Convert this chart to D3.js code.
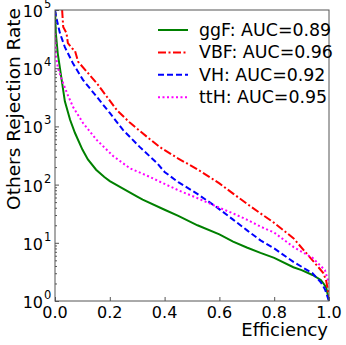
<!DOCTYPE html>
<html>
<head>
<meta charset="utf-8">
<script src="https://cdn.jsdelivr.net/npm/d3@7"></script>
<style>
  body { margin: 0; background: #fff; }
  text { font-family: "DejaVu Sans", sans-serif; fill: #000; }
</style>
</head>
<body>
<svg id="chart" width="346" height="345"></svg>
<script>
// ROC style curves, efficiency vs rejection of the other classes (log scale)

var ggfEff = [0, 0.003, 0.01, 0.018, 0.036, 0.055, 0.073, 0.1, 0.12, 0.15, 0.18, 0.2, 0.245, 0.3, 0.32, 0.4, 0.45, 0.52, 0.6, 0.65, 0.7, 0.75, 0.8, 0.87, 0.9, 0.94, 0.97, 0.98, 0.99, 1.0];
var ggfRej = [1e5, 40000, 18000, 10000, 2700, 1300, 770, 400, 270, 180, 135, 115, 87, 62, 55, 37, 29, 20, 14, 10.5, 8.3, 6.7, 5.5, 3.8, 3.4, 2.8, 2.3, 2.0, 1.7, 1.0];

var vbfEff = [0.026, 0.03, 0.042, 0.047, 0.062, 0.073, 0.084, 0.117, 0.153, 0.19, 0.226, 0.274, 0.336, 0.383, 0.45, 0.518, 0.6, 0.65, 0.7, 0.75, 0.8, 0.87, 0.94, 0.98, 0.99, 1.0];
var vbfRej = [1e5, 51000, 40000, 27000, 22000, 20000, 13000, 8600, 5500, 3200, 1900, 1150, 660, 440, 280, 185, 105, 70, 47, 32, 22, 12, 5.0, 3.0, 2.2, 1.2];

var vhEff = [0, 0.007, 0.018, 0.036, 0.066, 0.102, 0.153, 0.2, 0.248, 0.31, 0.372, 0.4, 0.45, 0.518, 0.59, 0.65, 0.7, 0.75, 0.8, 0.87, 0.94, 0.97, 0.985, 1.0];
var vhRej = [1e5, 67000, 40000, 23000, 12000, 6300, 3200, 1700, 870, 440, 235, 165, 110, 70, 41, 25, 16.5, 11, 8, 4.7, 3.0, 2.1, 1.6, 1.0];

var tthEff = [0, 0.004, 0.011, 0.025, 0.044, 0.066, 0.102, 0.153, 0.212, 0.274, 0.347, 0.383, 0.45, 0.518, 0.6, 0.65, 0.7, 0.75, 0.8, 0.87, 0.94, 0.985, 1.0];
var tthRej = [40000, 15000, 10000, 6300, 3700, 2150, 1150, 580, 310, 190, 135, 112, 80, 59, 40, 32, 25, 19, 15, 8.5, 5.5, 3.4, 2.0];

var seriesNames = ["ggF", "VBF", "VH", "ttH"];
var aucValues = ["0.89", "0.96", "0.92", "0.95"];
var xTicks = [0, 0.2, 0.4, 0.6, 0.8, 1.0];
var yTicks = [1, 10, 100, 1000, 10000, 100000];

var colors = ["#008000", "#ff0000", "#0000ff", "#ff00ff"];
var dashes = [null, "8,2.5,2,2.5", "6,3", "2,2.5"];

var svg = d3.select("#chart");
// note: "top" is taken by window.top, so use other names
var padL = 55, padR = 329, padT = 10, padB = 301;

var x = d3.scaleLinear().domain([0, 1]).range([padL, padR]);
var y = d3.scaleLog().domain([1, 1e5]).range([padB, padT]);

function zip(a, b) {
  return a.map(function(v, i) { return [v, b[i]]; });
}
var curves = [zip(ggfEff, ggfRej), zip(vbfEff, vbfRej), zip(vhEff, vhRej), zip(tthEff, tthRej)];

svg.append("clipPath").attr("id", "clip")
  .append("rect").attr("x", padL).attr("y", padT)
  .attr("width", padR - padL).attr("height", padB - padT);

var line = d3.line()
  .x(function(d) { return x(d[0]); })
  .y(function(d) { return y(d[1]); });

var plot = svg.append("g").attr("clip-path", "url(#clip)");
curves.forEach(function(c, i) {
  plot.append("path")
    .attr("d", line(c))
    .attr("fill", "none")
    .attr("stroke", colors[i])
    .attr("stroke-width", 2)
    .attr("stroke-dasharray", dashes[i]);
});

// minor ticks on the log axis
var minor = [];
for (var e = 0; e < 5; e++) {
  for (var m = 2; m < 10; m++) minor.push(m * Math.pow(10, e));
}

function greyTicks(g) {
  g.select(".domain").remove();
  g.selectAll("line").attr("stroke", "#555");
}

svg.append("g")
  .attr("transform", "translate(" + padL + ",0)")
  .call(d3.axisLeft(y).tickValues(minor).tickSize(-2).tickFormat(""))
  .call(greyTicks);

svg.append("g")
  .attr("transform", "translate(" + padL + ",0)")
  .call(d3.axisLeft(y).tickValues(yTicks).tickSize(-4).tickFormat(""))
  .call(greyTicks);

svg.append("g")
  .attr("transform", "translate(0," + padB + ")")
  .call(d3.axisBottom(x).tickValues(xTicks).tickSize(-4).tickFormat(""))
  .call(greyTicks);

// frame
svg.append("rect")
  .attr("x", padL).attr("y", padT)
  .attr("width", padR - padL).attr("height", padB - padT)
  .attr("fill", "none").attr("stroke", "#555").attr("stroke-width", 1);

// y tick labels 10^n
yTicks.forEach(function(v) {
  svg.append("text")
    .attr("x", 43).attr("y", y(v) + 7)
    .attr("text-anchor", "end")
    .style("font-size", "16px")
    .text("10");
  svg.append("text")
    .attr("x", 44).attr("y", y(v) - 2)
    .style("font-size", "11.5px")
    .text(Math.round(Math.log10(v)));
});

// x tick labels
xTicks.forEach(function(v) {
  svg.append("text")
    .attr("x", x(v)).attr("y", padB + 17)
    .attr("text-anchor", "middle")
    .style("font-size", "16px")
    .text(v.toFixed(1));
});

svg.append("text")
  .attr("x", 328).attr("y", 336)
  .attr("text-anchor", "end")
  .style("font-size", "18px")
  .text("Efficiency");

svg.append("text")
  .attr("transform", "translate(20,8) rotate(-90)")
  .attr("text-anchor", "end")
  .style("font-size", "18.5px")
  .text("Others Rejection Rate");

// legend
var legend = svg.append("g");
seriesNames.forEach(function(name, i) {
  var ly = 30 + i * 22.4;
  legend.append("line")
    .attr("x1", 158).attr("x2", 188)
    .attr("y1", ly).attr("y2", ly)
    .attr("stroke", colors[i])
    .attr("stroke-width", 2)
    .attr("stroke-dasharray", dashes[i]);
  legend.append("text")
    .attr("x", 199).attr("y", ly + 6)
    .style("font-size", "17.4px")
    .text(name + ": AUC=" + aucValues[i]);
});
</script>
</body>
</html>
